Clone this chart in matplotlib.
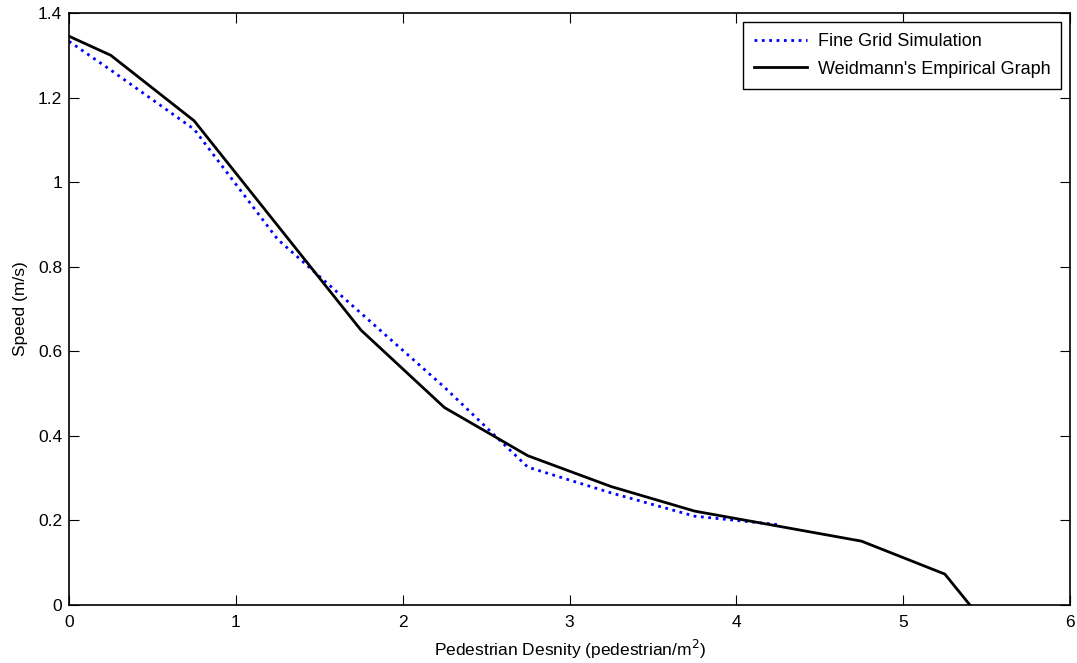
import numpy as np
import matplotlib.pyplot as plt

plt.rcParams['font.family'] = ['Liberation Sans', 'DejaVu Sans']

# Fine grid simulation
sim_density = [0, 0.25, 0.75, 1.25, 1.75, 2.25, 2.75, 3.25, 3.75, 4.25]
sim_speed = [1.333, 1.265, 1.125, 0.865, 0.69, 0.515, 0.326, 0.265, 0.21, 0.19]

# Weidmann's empirical graph
emp_density = [0, 0.25, 0.75, 1.75, 2.25, 2.75, 3.25, 3.75, 4.75, 5.25, 5.4]
emp_speed = [1.345, 1.30, 1.145, 0.65, 0.467, 0.353, 0.28, 0.222, 0.151, 0.073, 0.0]

fs = 12.5

fig = plt.figure(figsize=(10.77, 6.63), dpi=100)
ax = fig.add_axes([0.0641, 0.0875, 0.9294, 0.8929])

ax.plot(sim_density, sim_speed, ':', color='#0000ff', linewidth=2, label='Fine Grid Simulation')
ax.plot(emp_density, emp_speed, '-', color='black', linewidth=2, label="Weidmann's Empirical Graph")

ax.set_xlim(0, 6)
ax.set_ylim(0, 1.4)
ax.set_xticks(range(7))
yt = [0, 0.2, 0.4, 0.6, 0.8, 1.0, 1.2, 1.4]
ax.set_yticks(yt)
ax.set_yticklabels(['0', '0.2', '0.4', '0.6', '0.8', '1', '1.2', '1.4'])
ax.tick_params(axis='both', direction='in', length=7, width=0.8, top=True, right=True, labelsize=fs)
ax.tick_params(axis='x', pad=7)
ax.tick_params(axis='y', pad=5)
for s in ax.spines.values():
    s.set_linewidth(1.2)

ax.set_xlabel('Pedestrian Desnity (pedestrian/m$^2$)', fontsize=fs, labelpad=6)
ax.set_ylabel('Speed (m/s)', fontsize=fs, labelpad=7)

leg = ax.legend(loc='upper right', fontsize=13, fancybox=False, framealpha=1,
                edgecolor='black', borderaxespad=0.5, handlelength=2.9,
                handletextpad=0.6, borderpad=0.6, labelspacing=0.6)
leg.get_frame().set_linewidth(1.0)

plt.savefig('out.png', dpi=100)
